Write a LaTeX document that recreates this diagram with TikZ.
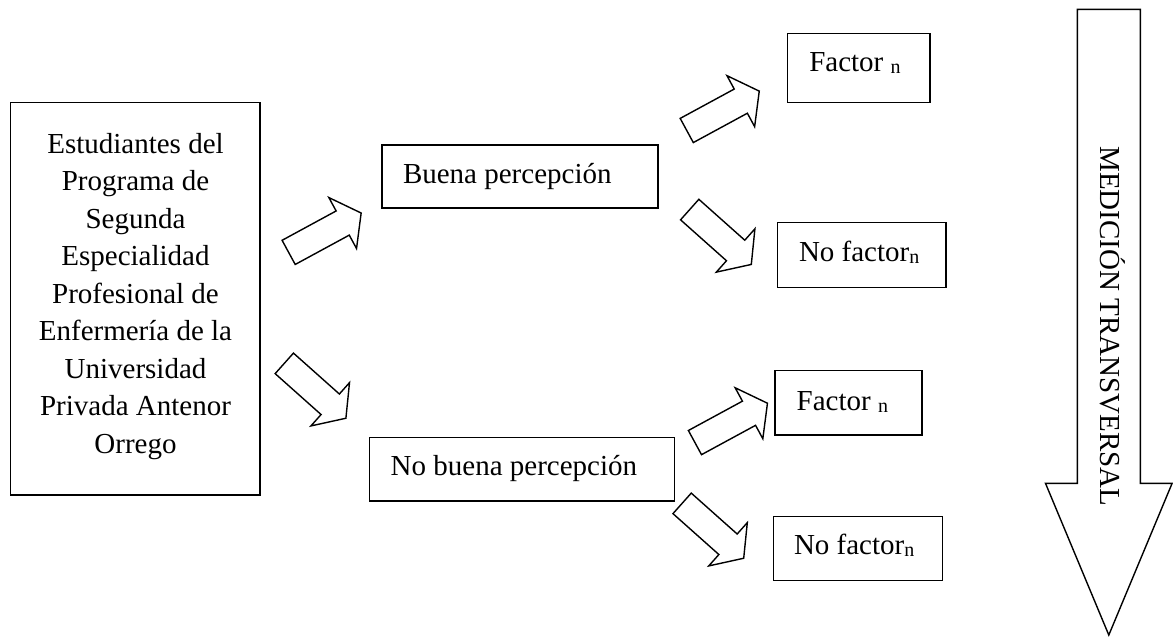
\documentclass[tikz,border=0pt]{standalone}
\usepackage{fontspec}
\setmainfont{Liberation Serif}
\tikzset{
  box/.style={draw, line width=1.5pt, inner sep=0pt, outer sep=0pt},
  lbl/.style={inner sep=0pt, outer sep=0pt, anchor=base west, font=\fontsize{29}{37.5}\selectfont},
  arrowline/.style={draw, line width=1.4pt, line join=miter, fill=white},
}
\newcommand{\subn}{{\raisebox{-2pt}{\fontsize{20}{20}\selectfont n}}}
% #1 name, #2 centre, #3 angle, #4 length, #5 shaft width, #6 head width, #7 head length
\newcommand{\blockarrow}[7]{%
  \pgfmathsetmacro{\baL}{#4/2}%
  \pgfmathsetmacro{\baN}{#4/2-#7}%
  \pgfmathsetmacro{\baS}{#5/2}%
  \pgfmathsetmacro{\baH}{#6/2}%
  \coordinate (#1) at (#2);
  \begin{scope}[shift={(#1)}, rotate=#3]
    \path[arrowline] (-\baL,-\baS) -- (\baN,-\baS) -- (\baN,-\baH) -- (\baL,0)
      -- (\baN,\baH) -- (\baN,\baS) -- (-\baL,\baS) -- cycle;
  \end{scope}}
\begin{document}
\begin{tikzpicture}[x=1pt, y=-1pt]
\useasboundingbox (0,0) rectangle (1173,638);
% main box
\node[box, minimum width=249.3pt, minimum height=392.3pt] (main) at (135.35,298.85) {};
\node[inner sep=0pt, align=center, font=\fontsize{29}{37.5}\selectfont] (maintxt) at (135.5,296.4)
 {Estudiantes del\\Programa de\\Segunda\\Especialidad\\Profesional de\\Enfermería de la\\Universidad\\Privada Antenor\\Orrego};
% middle boxes
\node[box, minimum width=276pt, minimum height=63pt] (b1) at (520,176.5) {};
\node[lbl] (t1) at (403,183) {Buena percepción};
\node[box, minimum width=305pt, minimum height=63.7pt] (b2) at (521.8,469.15) {};
\node[lbl] (t2) at (390.7,475.7) {No buena percepción};
% right boxes
\node[box, minimum width=142.7pt, minimum height=69.4pt] (f1) at (858.65,68) {};
\node[lbl] (tf1) at (809.3,71) {Factor \subn};
\node[box, minimum width=168.7pt, minimum height=64.6pt] (nf1) at (861.65,255) {};
\node[lbl] (tnf1) at (799,261.7) {No factor\subn};
\node[box, minimum width=147pt, minimum height=64.3pt] (f2) at (848.5,402.85) {};
\node[lbl] (tf2) at (796.7,410.7) {Factor \subn};
\node[box, minimum width=169.4pt, minimum height=64pt] (nf2) at (858,548.7) {};
\node[lbl] (tnf2) at (794,554) {No factor\subn};
% block arrows
\blockarrow{a1}{324.9,232.7}{28.5}{82.5}{27.5}{58}{21}
\blockarrow{a2}{315.1,390.8}{-41.7}{82.5}{27.5}{58}{21}
\blockarrow{a3}{723,110.8}{28.5}{82.5}{27.5}{58}{21}
\blockarrow{a4}{720.5,237}{-41.7}{82.5}{27.5}{58}{21}
\blockarrow{a5}{731.2,422.9}{28.5}{82.5}{27.5}{58}{21}
\blockarrow{a6}{712.9,530.8}{-41.7}{82.5}{27.5}{58}{21}
% big arrow
\blockarrow{big}{1108.8,322.2}{-90}{625.7}{63}{126.6}{151.7}
\node[inner sep=0pt, anchor=base, rotate=-90, font=\fontsize{29}{37.5}\selectfont] (bigtxt) at (1100.5,326.5) {MEDICIÓN TRANSVERSAL};
\end{tikzpicture}
\end{document}
